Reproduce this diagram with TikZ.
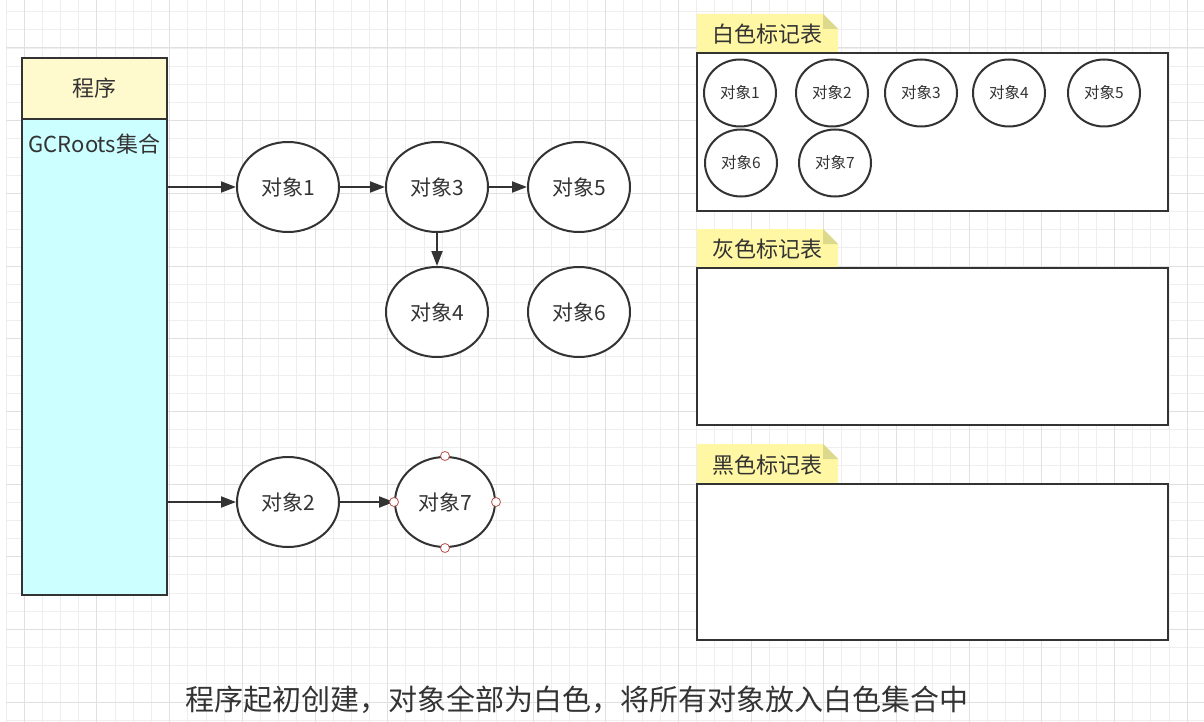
\documentclass[tikz,border=0pt]{standalone}
\usepackage{fontspec}
\setmainfont{Noto Sans CJK SC}
\usetikzlibrary{arrows.meta,shapes.geometric}
\definecolor{gridminor}{HTML}{EEEEEE}
\definecolor{gridmajor}{HTML}{E0E0E0}
\definecolor{ink}{HTML}{333333}
\definecolor{headfill}{HTML}{FFFACD}
\definecolor{bodyfill}{HTML}{CCFFFF}
\definecolor{tabfill}{HTML}{FFF7A3}
\definecolor{foldfill}{HTML}{DCD88C}
\definecolor{selred}{HTML}{B85450}
\tikzset{
  obj/.style={ellipse,draw=ink,line width=2pt,fill=white,minimum width=102pt,minimum height=90pt,inner sep=0pt,text=ink,font=\fontsize{21}{25}\selectfont},
  smallobj/.style={ellipse,draw=ink,line width=2pt,fill=white,minimum width=72pt,minimum height=67pt,inner sep=0pt,text=ink,font=\fontsize{15.5}{18}\selectfont},
  arr/.style={draw=ink,line width=2pt,-{Triangle[length=15pt,width=11pt]}},
  table/.style={draw=ink,line width=2pt,fill=white,rectangle,inner sep=0pt},
  tabtext/.style={text=ink,font=\fontsize{22}{26}\selectfont,inner sep=0pt},
  anchorpt/.style={circle,draw=selred,line width=0.8pt,fill=white,minimum size=9pt,inner sep=0pt}
}
\begin{document}
\begin{tikzpicture}[x=1pt,y=-1pt]
\useasboundingbox (0,0) rectangle (1204,722);
\fill[white] (0,0) rectangle (1204,722);
% grid
\foreach \i in {0,...,65} {
  \draw[gridminor,line width=1pt] ({6.13+18.17*\i},0) -- ({6.13+18.17*\i},722);
}
\foreach \i in {0,...,39} {
  \draw[gridminor,line width=1pt] (6,{11.7+18.17*\i}) -- (1204,{11.7+18.17*\i});
}
\foreach \i in {0,...,16} {
  \draw[gridmajor,line width=1pt] ({24.3+72.68*\i},0) -- ({24.3+72.68*\i},722);
}
\foreach \i in {0,...,9} {
  \draw[gridmajor,line width=1pt] (6,{48+72.68*\i}) -- (1204,{48+72.68*\i});
}

% program box
\node[draw=ink,line width=2pt,fill=headfill,minimum width=145pt,minimum height=61pt,inner sep=0pt,text=ink,font=\fontsize{22}{26}\selectfont] (head) at (94.5,88.5) {程序};
\node[draw=ink,line width=2pt,fill=bodyfill,minimum width=145pt,minimum height=476pt,inner sep=0pt] (body) at (94.5,357) {};
\node[text=ink,font=\fontsize{22}{26}\selectfont,inner sep=0pt] (gcr) at (94.5,144) {GCRoots集合};

% objects
\node[obj] (o1) at (288,187) {对象1};
\node[obj] (o3) at (437,187) {对象3};
\node[obj] (o5) at (579,187) {对象5};
\node[obj] (o4) at (437,312) {对象4};
\node[obj] (o6) at (579,312) {对象6};
\node[obj] (o2) at (288,502) {对象2};
\node[obj,minimum width=100pt] (o7) at (445,502) {对象7};

\draw[arr] (body.east |- o1) -- (o1);
\draw[arr] (body.east |- o2) -- (o2);
\draw[arr] (o1) -- (o3);
\draw[arr] (o3) -- (o5);
\draw[arr] (o3) -- (o4);
\draw[arr] (o2) -- (o7);

\node[anchorpt] (p7n) at (o7.north) {};
\node[anchorpt] (p7s) at (o7.south) {};
\node[anchorpt] (p7w) at (o7.west) {};
\node[anchorpt] (p7e) at (o7.east) {};

% tabs and tables
\foreach \t/\b/\lab/\nm in {14/53/白色标记表/w, 229/268/灰色标记表/g, 444/484/黑色标记表/k} {
  \fill[tabfill] (697,\b) -- (697,\t) -- (823,\t) -- (838,\t+15) -- (838,\b) -- cycle;
  \fill[foldfill] (823,\t) -- (823,\t+15) -- (838,\t+15) -- cycle;
  \node[tabtext] (tab\nm) at (767,{(\t+\b)/2+1}) {\lab};
}
\node[table,minimum width=471pt,minimum height=158pt] (tw) at (932.5,132) {};
\node[table,minimum width=471pt,minimum height=157pt] (tg) at (932.5,346.5) {};
\node[table,minimum width=471pt,minimum height=156pt] (tk) at (932.5,562) {};

\node[smallobj] (s1) at (740,93) {对象1};
\node[smallobj] (s2) at (832,93) {对象2};
\node[smallobj] (s3) at (921,93) {对象3};
\node[smallobj] (s4) at (1009,93) {对象4};
\node[smallobj] (s5) at (1104,93) {对象5};
\node[smallobj] (s6) at (741,163) {对象6};
\node[smallobj] (s7) at (835,163) {对象7};

% caption
\node[text=ink,font=\fontsize{29}{33}\selectfont,inner sep=0pt] (cap) at (577,700) {程序起初创建，对象全部为白色，将所有对象放入白色集合中};
\end{tikzpicture}
\end{document}
